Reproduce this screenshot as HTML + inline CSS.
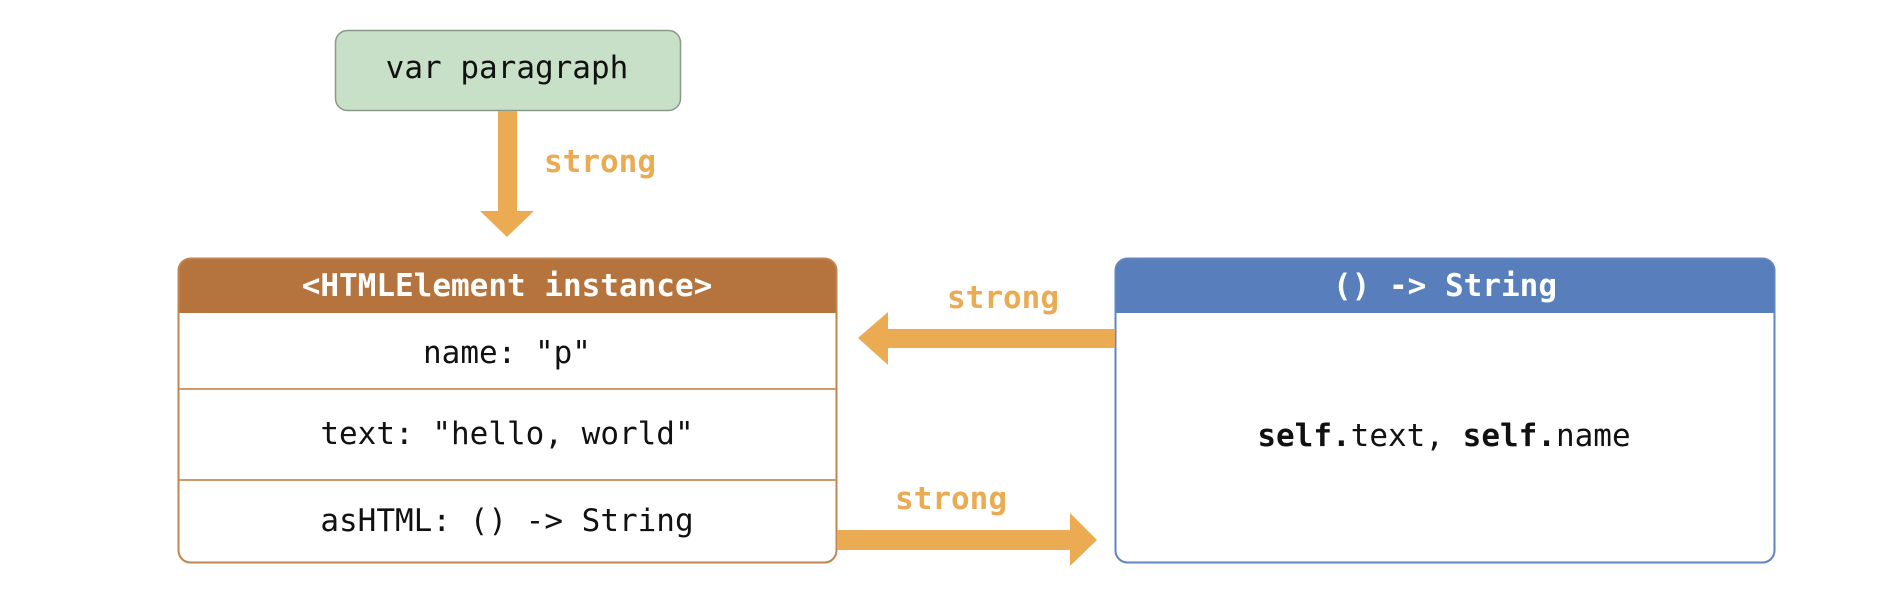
<!DOCTYPE html>
<html><head><meta charset="utf-8"><style>
html,body{margin:0;padding:0;background:#fff;}
svg{display:block;}
text{font-family:"DejaVu Sans Mono","Liberation Mono",monospace;font-size:31px;text-anchor:middle;dominant-baseline:central;}
</style></head><body>
<svg width="1894" height="616" viewBox="0 0 1894 616" xmlns="http://www.w3.org/2000/svg">
<rect x="335.5" y="30.5" width="345" height="80" rx="12" fill="#c8dfc8" stroke="#8a9a8a" stroke-width="1.5"/>
<text x="507" y="68" fill="#111">var paragraph</text>
<rect x="498" y="111" width="19" height="101" fill="#ebab53"/>
<polygon points="480,211 534,211 507,237" fill="#ebab53"/>
<text x="600" y="162" fill="#ebab53" font-weight="bold">strong</text>

<path d="M178.5,313 V270 a12,12 0 0 1 12,-12 H825 a12,12 0 0 1 12,12 V313 Z" fill="#b5733d"/>
<rect x="178.5" y="258.5" width="658" height="304" rx="12" fill="none" stroke="#c08550" stroke-width="2"/>
<line x1="179" y1="389" x2="836" y2="389" stroke="#d09a6a" stroke-width="2"/>
<line x1="179" y1="480" x2="836" y2="480" stroke="#d09a6a" stroke-width="2"/>
<text x="507" y="286" fill="#fff" font-weight="bold">&lt;HTMLElement instance&gt;</text>
<text x="507" y="353" fill="#111">name: "p"</text>
<text x="507" y="434" fill="#111">text: "hello, world"</text>
<text x="507" y="521" fill="#111">asHTML: () -&gt; String</text>

<path d="M1115.5,313 V270 a12,12 0 0 1 12,-12 H1763 a12,12 0 0 1 12,12 V313 Z" fill="#587fbb"/>
<rect x="1115.5" y="258.5" width="659" height="304" rx="12" fill="none" stroke="#5f86c0" stroke-width="2"/>
<text x="1445" y="286" fill="#fff" font-weight="bold">() -&gt; String</text>
<text x="1444" y="436" fill="#111"><tspan font-weight="bold">self.</tspan>text, <tspan font-weight="bold">self.</tspan>name</text>

<rect x="886" y="329" width="229" height="19" fill="#ebab53"/>
<polygon points="888,312 888,365 858,338" fill="#ebab53"/>
<text x="1003" y="298" fill="#ebab53" font-weight="bold">strong</text>

<rect x="837" y="530" width="235" height="20" fill="#ebab53"/>
<polygon points="1070,513 1070,566 1097,540" fill="#ebab53"/>
<text x="951" y="499" fill="#ebab53" font-weight="bold">strong</text>
</svg>
</body></html>
